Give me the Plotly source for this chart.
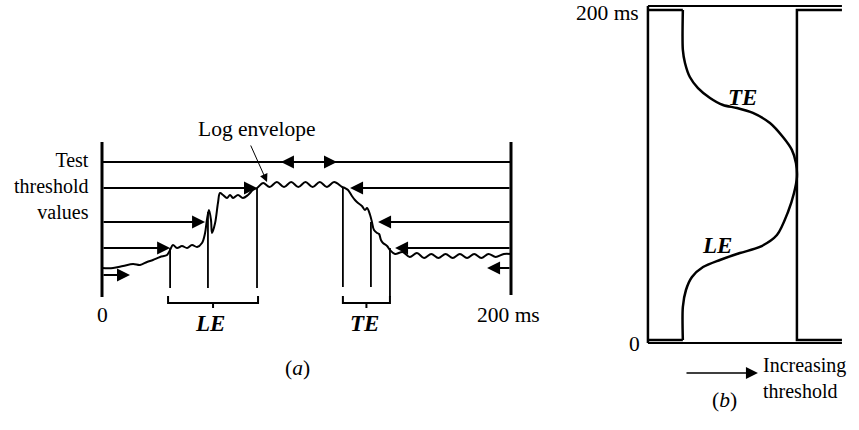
import plotly.graph_objects as go

# ---------------- Panel (a): log envelope vs time (ms), level in dB-like units ----------------
env_t = [0, 5.4, 10.3, 15.2, 18.6, 22.0, 24.9, 28.4, 31.8, 33.3,
         34.7, 36.7, 39.1, 41.6, 44.0, 46.5, 48.9, 50.4, 51.3, 52.3,
         53.3, 53.8, 55.3, 56.7, 57.7, 59.2, 61.1, 62.6, 64.1, 66.5,
         68.9, 71.4, 73.8, 75.8, 78.8, 82.0, 85.5, 89.0, 92.5, 96.0,
         99.5, 103.0, 106.5, 110.0, 113.5, 117.4, 118.8, 120.3, 122.2, 123.7,
         125.2, 127.1, 128.6, 129.6, 131.1, 132.0, 133.0, 134.5, 135.5, 136.4,
         137.4, 139.4, 140.8, 143.3, 147.0, 150.5, 154.0, 157.5, 161.0, 164.5,
         168.0, 171.5, 175.0, 178.5, 182.0, 185.5, 189.0, 192.5, 196.5, 200]
env_level = [8.0, 8.0, 8.5, 9.0, 8.75, 9.5, 10.0, 10.75, 11.25, 12.5,
             13.75, 13.0, 13.5, 13.0, 13.75, 13.25, 14.25, 16.75, 20.0, 22.5,
             20.0, 16.75, 19.25, 24.25, 26.75, 26.25, 25.5, 26.25, 25.5, 26.25,
             25.5, 26.25, 27.5, 28.0, 29.25, 28.25, 29.5, 28.25, 29.5, 28.25,
             29.5, 28.25, 29.5, 28.25, 29.5, 28.25, 28.0, 27.5, 26.0, 25.0,
             24.25, 23.5, 22.5, 23.0, 21.25, 19.5, 17.5, 16.75, 16.5, 15.0,
             14.25, 13.5, 12.5, 11.5, 12.0, 10.75, 11.75, 10.5, 11.5, 10.5,
             11.5, 10.5, 11.5, 10.5, 11.5, 10.5, 11.5, 10.75, 11.5, 11.5]

thresholds = [13.0, 19.5, 28.0]          # test thresholds crossed by the envelope
top_threshold = 34.5                     # highest test threshold (never crossed)
left_tips = [33.3, 50.4, 75.8]           # arrows coming from t=0
right_tips = [143.3, 135.0, 121.3]       # arrows coming from t=200
top_tips = [87.5, 114.9]                 # outward arrows on the top threshold
start_left = (6.25, 13.7)                # (level, tip) small arrow at t=0
start_right = (8.0, 188.3)               # (level, tip) small arrow at t=200

le_times = [33.3, 51.8, 75.8]
le_tops = [13.0, 22.0, 28.0]
le_bottoms = [3.0, 3.0, 3.0]
te_times = [117.8, 131.5, 140.8]
te_tops = [28.0, 19.5, 13.0]
te_bottoms = [3.25, 3.25, 0.75]

axis_a_top = 39.5
axis_a_bottoms = [0.75, 1.25]
t_range = [0, 200]

# ---------------- Panel (b): LE/TE time vs threshold ----------------
b_thr = [18.0, 18.0, 19.1, 21.6, 25.8, 32.0, 38.7, 45.9, 54.1, 62.9,
         69.6, 74.2, 76.3, 76.8, 75.3, 72.2, 66.5, 57.7, 47.4, 37.1,
         28.4, 22.7, 19.6, 18.0, 18.0]
b_time = [200, 175.8, 167.9, 159.4, 152.7, 146.7, 142.4, 140.6, 137.6, 131.5,
          123.0, 115.2, 107.3, 98.8, 89.1, 77.6, 63.6, 56.4, 52.7, 48.5,
          44.2, 38.2, 30.3, 20.0, 0]
b_onset_thr = 18.0
b_peak_thr = 76.8
b_thr_end = 100
b_time_max = 200

fig = go.Figure()
K = "black"
FONT = "Liberation Serif"

def line(x, y, w=2, xa="x", ya="y", shape="linear", smooth=None):
    ln = dict(color=K, width=w, shape=shape)
    if smooth is not None:
        ln["smoothing"] = smooth
    fig.add_trace(go.Scatter(x=x, y=y, mode="lines", line=ln, xaxis=xa, yaxis=ya,
                             hoverinfo="skip", showlegend=False))

ann = []
def arrow(tail, tip, y, xr="x", yr="y", w=2, size=1.3, head=2):
    ann.append(dict(x=tip, y=y, ax=tail, ay=y, xref=xr, yref=yr, axref=xr, ayref=yr,
                    text="", showarrow=True, arrowhead=head, arrowsize=size,
                    arrowwidth=w, arrowcolor=K, standoff=0))

def label(text, x, y, size=21.5, xr="x", yr="y", xanchor="center", yanchor="middle", align="center"):
    ann.append(dict(x=x, y=y, xref=xr, yref=yr, text=text, showarrow=False,
                    font=dict(family=FONT, size=size, color=K),
                    xanchor=xanchor, yanchor=yanchor, align=align, borderpad=0))

# ---- panel (a) ----
line([t_range[0]] * 2, [axis_a_bottoms[0], axis_a_top], w=3)
line([t_range[1]] * 2, [axis_a_bottoms[1], axis_a_top], w=3)
line(t_range, [top_threshold] * 2, w=2)
arrow(top_tips[0] + 8, top_tips[0], top_threshold)
arrow(top_tips[1] - 8, top_tips[1], top_threshold)
for lvl, lt, rt in zip(thresholds, left_tips, right_tips):
    arrow(t_range[0], lt, lvl)
    arrow(t_range[1], rt, lvl)
arrow(t_range[0], start_left[1], start_left[0])
arrow(t_range[1], start_right[1], start_right[0])

for t, a, b in zip(le_times, le_tops, le_bottoms):
    line([t, t], [b, a], w=1.8)
for t, a, b in zip(te_times, te_tops, te_bottoms):
    line([t, t], [b, a], w=1.8)

line(env_t, env_level, w=2, shape="spline", smooth=1.0)

def bracket(x0, x1):
    xm = (x0 + x1) / 2
    line([x0, x0, xm, xm, xm, x1, x1], [1.0, -0.75, -0.75, -2.0, -0.75, -0.75, 1.0], w=2)

bracket(le_times[0] - 1, le_times[-1] + 0.5)
bracket(te_times[0], te_times[-1])

label("Test<br>threshold<br>values", -5.9, 28.5, size=20, xanchor="right", align="right")
label("Log envelope", 75.8, 42.7)
ann.append(dict(x=80.7, y=29.5, ax=72.4, ay=39.0, xref="x", yref="y", axref="x", ayref="y",
                text="", showarrow=True, arrowhead=2, arrowsize=1.6, arrowwidth=1,
                arrowcolor=K, standoff=0))
label("0", 0, -3.75)
label("200 ms", 199, -3.75)
label("<b><i>LE</i></b>", 52.8, -5.75, size=23)
label("<b><i>TE</i></b>", 128.6, -5.75, size=23)
label("(<i>a</i>)", 95.4, -17, size=21.5)

# ---- panel (b) ----
xb, yb = "x2", "y2"
line([0, 0], [-1.8, 202.4], w=2.5, xa=xb, ya=yb)
line([0, b_thr_end], [202.4, 202.4], w=2, xa=xb, ya=yb)
line([0, b_thr_end], [-1.8, -1.8], w=2, xa=xb, ya=yb)
line([0, b_onset_thr], [b_time_max, b_time_max], w=2.5, xa=xb, ya=yb)
line([0, b_onset_thr], [0, 0], w=2.5, xa=xb, ya=yb)
line([b_thr_end, b_peak_thr, b_peak_thr, b_thr_end], [b_time_max, b_time_max, 0, 0], w=2.5, xa=xb, ya=yb)
line(b_thr, b_time, w=2.5, xa=xb, ya=yb, shape="spline", smooth=0.8)

label("200 ms", -4.1, 198, xr="x2", yr="y2", xanchor="right")
label("0", -3.6, -2.4, xr="x2", yr="y2", xanchor="right")
label("<b><i>TE</i></b>", 48.5, 146.7, size=23, xr="x2", yr="y2")
label("<b><i>LE</i></b>", 35.6, 57.0, size=23, xr="x2", yr="y2")
arrow(19.1, 56.7, -20.0, xr="x2", yr="y2", w=1.5, size=1.6)
label("Increasing<br>threshold", 58.8, -23.0, size=20, xr="x2", yr="y2", xanchor="left", align="left")
label("(<i>b</i>)", 39.7, -36.4, size=21.5, xr="x2", yr="y2")

hidden = dict(visible=False, showgrid=False, zeroline=False, fixedrange=True)
fig.update_layout(
    width=859, height=430, margin=dict(l=0, r=0, t=0, b=0),
    paper_bgcolor="white", plot_bgcolor="white", showlegend=False, hovermode=False,
    xaxis=dict(domain=[0, 1], range=[-49.88, 370.17], **hidden),
    yaxis=dict(domain=[0, 1], range=[-32.5, 75], **hidden),
    xaxis2=dict(domain=[0, 1], range=[-334.0, 108.8], overlaying="x", anchor="y2", **hidden),
    yaxis2=dict(domain=[0, 1], range=[-54.55, 206.06], overlaying="y", anchor="x2", **hidden),
    annotations=ann,
)
fig.write_html("out.html", config={"displayModeBar": False})
